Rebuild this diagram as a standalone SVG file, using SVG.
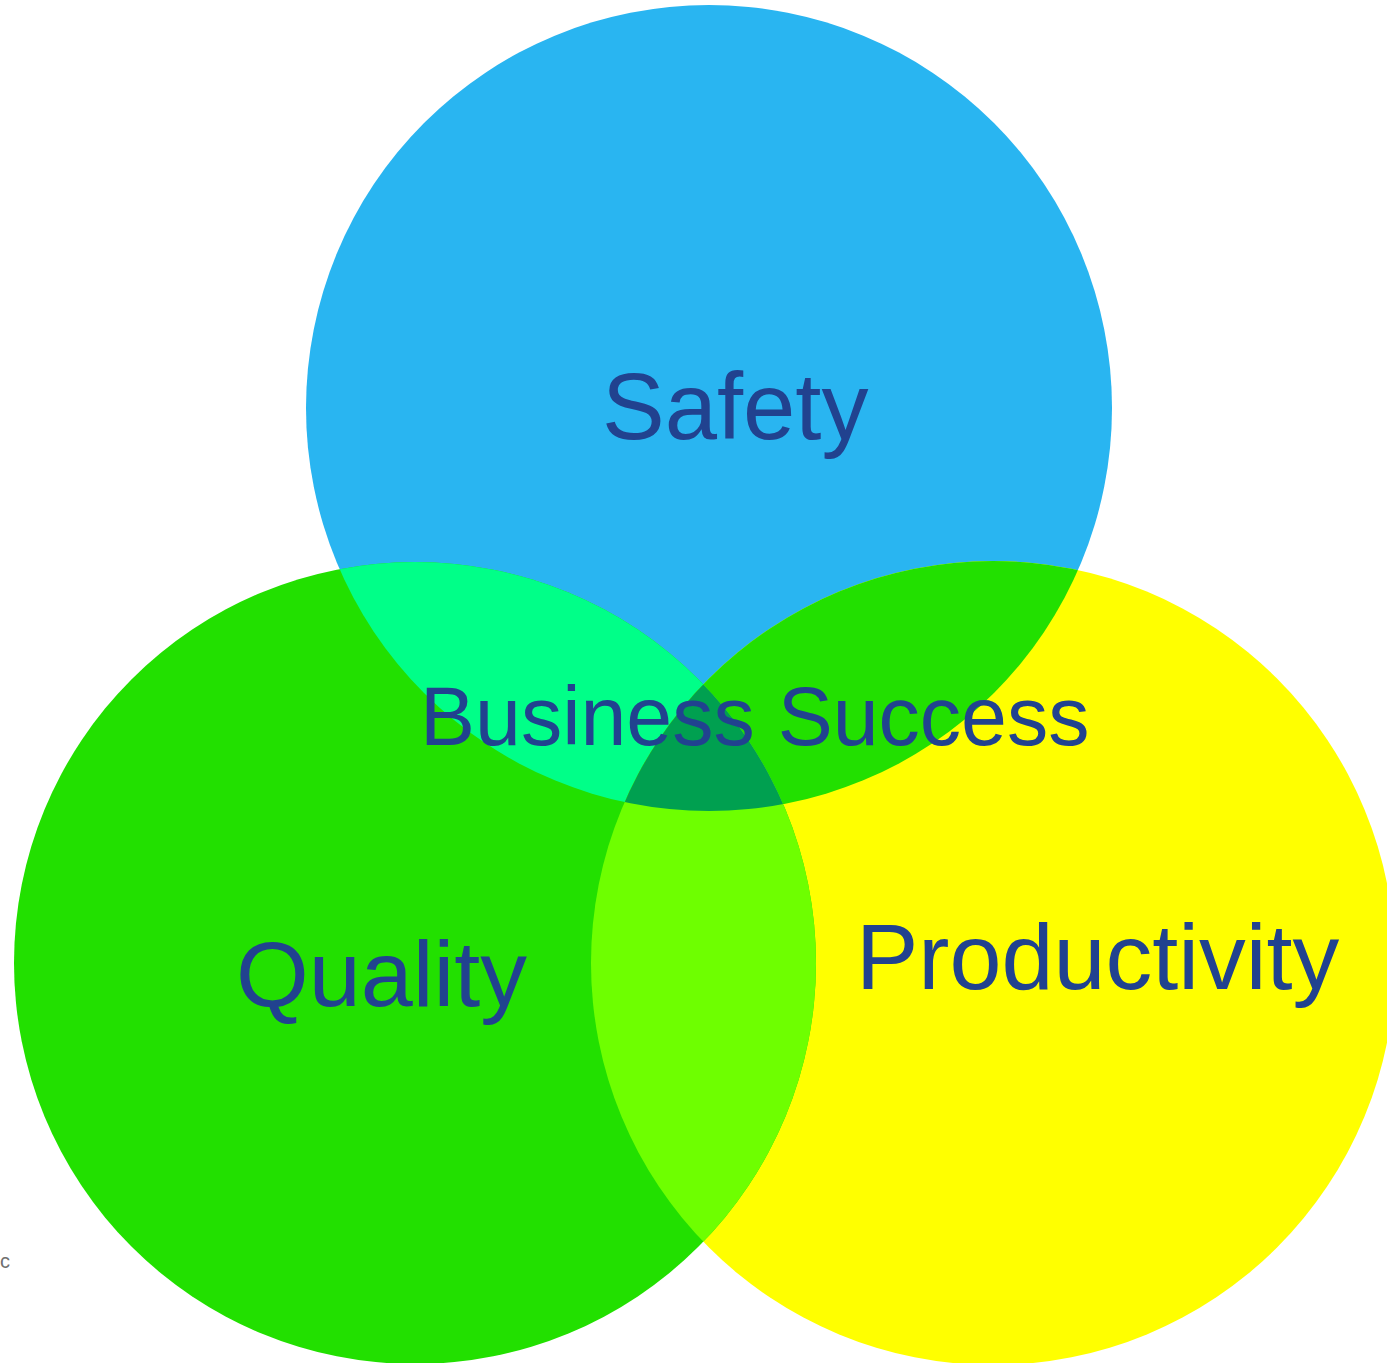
<svg xmlns="http://www.w3.org/2000/svg" width="1387" height="1363" viewBox="0 0 1387 1363">
<style>
.lbl{font-family:"Liberation Sans",Arial,sans-serif;fill:#21428F}
</style>
<defs>
<circle id="cS" cx="709" cy="408" r="403"/>
<circle id="cQ" cx="415" cy="963" r="401"/>
<circle id="cP" cx="993" cy="963" r="402"/>
<clipPath id="clipQ"><use href="#cQ"/></clipPath>
<clipPath id="clipP"><use href="#cP"/></clipPath>
</defs>
<rect width="1387" height="1363" fill="#FFFFFF"/>
<g id="safety">
<use href="#cS" fill="#29B5F1"/>
</g>
<g id="productivity">
<use href="#cP" fill="#FFFF00"/>
</g>
<g id="quality">
<use href="#cQ" fill="#22E000"/>
</g>
<g id="overlaps">
<use href="#cS" fill="#00FF88" clip-path="url(#clipQ)"/>
<use href="#cS" fill="#22E000" clip-path="url(#clipP)"/>
<use href="#cQ" fill="#6EFF00" clip-path="url(#clipP)"/>
<g clip-path="url(#clipP)"><use href="#cS" fill="#00A050" clip-path="url(#clipQ)"/></g>
</g>
<g id="labels">
<text class="lbl" x="602" y="439" font-size="94">Safety</text>
<text class="lbl" x="420" y="745" font-size="82.5">Business Success</text>
<text class="lbl" x="236" y="1006" font-size="93.5">Quality</text>
<text class="lbl" x="856" y="989" font-size="93.5">Productivity</text>
<text x="0" y="1268" font-family="Liberation Sans, sans-serif" font-size="20" fill="#707070">c</text>
</g>
</svg>
